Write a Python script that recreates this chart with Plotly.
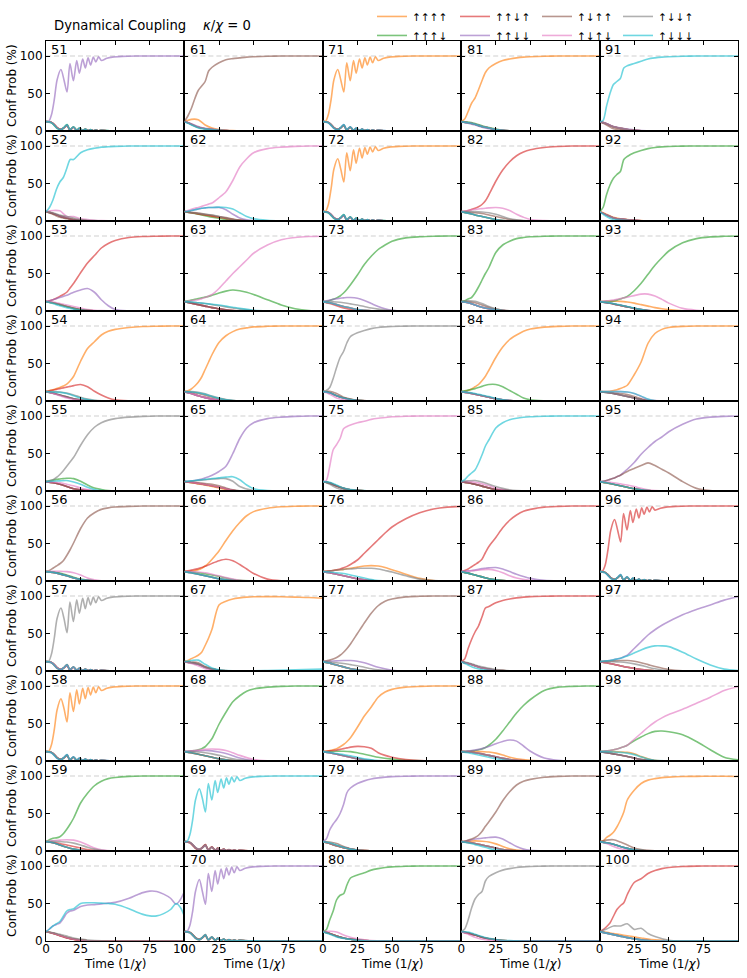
import plotly.graph_objects as go
from plotly.subplots import make_subplots

states = ["↑↑↑↑", "↑↑↑↓", "↑↑↓↑", "↑↑↓↓", "↑↓↑↑", "↑↓↑↓", "↑↓↓↑", "↑↓↓↓"]
colors = ["#ff7f0e", "#2ca02c", "#d62728", "#9467bd", "#8c564b", "#e377c2", "#7f7f7f", "#17becf"]

# time grids (1/chi); a curve's grid is picked by its length
t_main = [0, 2.5, 5, 7.5, 10, 12.5, 15, 17.5, 20, 25, 30, 35, 40, 45, 50, 60, 70, 80, 90, 100]
t_side = [0, 5, 10, 15, 20, 25, 30, 35, 40, 50, 60, 100]
t_osc = [0, 2, 4, 6, 8, 10.8, 13, 15.2, 17.3, 19.8, 22.2, 24.1, 26.5, 28.4, 30.4, 32.2, 34.2, 36, 38, 40,
         44, 48, 55, 65, 80, 100]
t_long = [0, 2.5, 5, 7.5, 10, 12.5, 15, 17.5, 20, 25, 30, 35, 40, 45, 50, 60, 65, 70, 75, 80, 85, 90, 94, 97, 100]

# shared wiggly tails of the fast-oscillating panels
osc_rest_a = [12.5, 12.4, 11.5, 8.5, 4.5, 2.2, 4.2, 7.5, 1.2, 5, 0.8, 3.3, 0.5, 2.4, 0.3, 1.7, 0.2, 1.3, 0.2, 0.9,
              0.4, 0.2, 0.1, 0, 0, 0]
osc_rest_b = [12.5, 12.2, 10.8, 7.5, 3.5, 1.5, 4.8, 8.5, 1.6, 5.6, 1, 3.8, 0.7, 2.7, 0.4, 1.9, 0.3, 1.4, 0.2, 1,
              0.5, 0.2, 0.1, 0, 0, 0]

# per panel: state index -> values, "rest" -> every other state
p51 = {3: [12.5, 13, 22, 42, 68, 82, 68, 52, 90, 67, 94, 77, 96, 84, 97.5, 88, 98.5, 92, 99, 94, 97, 98.5, 99.5, 100, 100, 100],
       1: osc_rest_b, 7: osc_rest_b, "rest": osc_rest_a}
p52 = {7: [12.5, 18, 28, 42, 52, 58, 70, 82, 82, 91, 95, 97, 98.5, 99, 99.5, 100, 100, 100, 100, 100],
       5: [12.5, 14, 13.5, 6, 6, 3, 2, 1, 0.5, 0, 0, 0],
       6: [12.5, 11, 8, 6, 4, 2, 1, 0.5, 0.2, 0, 0, 0],
       4: [12.5, 9, 5, 3, 1.2, 0.5, 0.2, 0, 0, 0, 0, 0],
       "rest": [12.5, 10, 6.5, 4, 2, 1, 0.4, 0.1, 0, 0, 0, 0]}
p53 = {2: [12.5, 13.5, 15, 17, 19.5, 22, 25, 31, 37, 51, 64, 74, 84, 90, 94, 98, 99.3, 99.7, 100, 100],
       3: [12.5, 13.5, 15, 16.5, 18, 19.5, 21, 23, 25, 28, 30, 25, 15, 7, 2, 0.3, 0, 0, 0, 0],
       5: [12.5, 12, 10, 8, 6, 4, 2, 1, 0.5, 0, 0, 0],
       7: [12.5, 10, 7, 4.5, 2.5, 1, 0.3, 0, 0, 0, 0, 0],
       "rest": [12.5, 11, 8.5, 6, 3.5, 2, 0.8, 0.3, 0, 0, 0, 0]}
p54 = {0: [12.5, 14, 15, 16.5, 18, 20, 22.5, 27, 33, 53, 70, 79, 88, 93, 95.5, 98, 99.3, 99.7, 100, 100],
       2: [12.5, 13.5, 14.5, 15.5, 16.5, 17.5, 18.5, 19.5, 20.5, 22, 19, 13, 8, 4, 1.5, 0.3, 0, 0, 0, 0],
       7: [12.5, 12, 11.5, 10, 7, 4, 2, 0.5, 0, 0, 0, 0],
       6: [12.5, 12.5, 12, 10.5, 8, 5, 2.5, 1, 0.2, 0, 0, 0],
       5: [12.5, 10, 7, 4, 2, 1, 0.3, 0, 0, 0, 0, 0],
       "rest": [12.5, 10.5, 8, 5.5, 3, 1.5, 0.5, 0, 0, 0, 0, 0]}
p55 = {6: [12.5, 14, 15, 18, 22, 27, 33, 39, 45, 61, 75, 85, 91, 94.5, 96.5, 98.5, 99.5, 100, 100, 100],
       1: [12.5, 13.5, 14.5, 15.5, 16, 16.5, 17, 17, 16.5, 13, 8, 4, 2, 0.5, 0, 0, 0, 0, 0, 0],
       7: [12.5, 13, 13.5, 14, 12, 9, 5, 2, 0.5, 0, 0, 0],
       5: [12.5, 12, 11, 9, 7, 4, 2, 0.5, 0, 0, 0, 0],
       "rest": [12.5, 11, 9, 6, 3, 1.5, 0.5, 0, 0, 0, 0, 0]}
p56 = {4: [12.5, 14, 17, 20, 23, 27, 34, 42, 51, 70, 84, 91, 95.5, 97.5, 98.6, 99.5, 100, 100, 100, 100],
       5: [12.5, 13, 13, 12.5, 11, 8, 4, 1.5, 0.3, 0, 0, 0],
       1: [12.5, 12, 10.5, 8, 5, 2.5, 1, 0.3, 0, 0, 0, 0],
       "rest": [12.5, 11.5, 9.5, 7, 4, 2, 0.8, 0.2, 0, 0, 0, 0]}
p57 = {6: [12.5, 13, 23, 44, 70, 84, 70, 51, 92, 66, 95, 77, 97, 83, 98, 88, 98.5, 91, 99, 94, 97, 98.5, 99.5, 100, 100, 100],
       2: osc_rest_b, 7: osc_rest_b, "rest": osc_rest_a}
p58 = {0: [12.5, 13, 22, 42, 68, 83, 70, 52, 91, 66, 95, 76, 97, 83, 98, 88, 98.5, 91, 99, 94, 97, 98.5, 99.5, 100, 100, 100],
       3: osc_rest_b, 7: osc_rest_b, "rest": osc_rest_a}
p59 = {1: [12.5, 15, 17, 17.5, 19, 23, 29, 36, 44, 64, 77, 87, 93, 96.5, 98, 99.5, 100, 100, 100, 100],
       5: [12.5, 14, 14.5, 15, 14.5, 12, 8, 4, 1.5, 0, 0, 0],
       6: [12.5, 13, 12.5, 12, 10.5, 8, 5, 2.5, 1, 0, 0, 0],
       2: [12.5, 11.5, 10, 8, 6, 4, 2, 0.8, 0.2, 0, 0, 0],
       "rest": [12.5, 11, 8, 5, 2.5, 1, 0.3, 0, 0, 0, 0, 0]}
p60 = {3: [12.5, 16, 20, 22, 24, 30, 37, 40, 41, 46, 48, 48.5, 49.5, 50.5, 51.5, 57, 61, 64.5, 66.5, 66, 62.5, 57, 49, 55, 66],
       7: [12.5, 16, 20, 23, 26, 33, 40, 42, 43, 50, 51, 51, 50.5, 50, 49, 43, 39, 35.5, 33.5, 33.5, 36.5, 42, 50, 45, 33],
       6: [12.5, 11, 9, 6.5, 4, 2.5, 1.2, 0.5, 0.2, 0, 0, 0],
       2: [12.5, 10, 7, 4, 2, 0.8, 0.2, 0, 0, 0, 0, 0],
       "rest": [12.5, 10.5, 7.5, 4.5, 2.5, 1.2, 0.4, 0.1, 0, 0, 0, 0]}

p61 = {4: [12.5, 20, 30, 43, 54, 60, 66, 80, 85, 91, 95, 96.5, 97.5, 98.5, 99, 99.7, 100, 100, 100, 100],
       0: [12.5, 15.5, 15, 8, 4, 2, 1, 0.5, 0.2, 0, 0, 0],
       7: [12.5, 8, 4, 2.5, 1.5, 0.8, 0.3, 0, 0, 0, 0, 0],
       3: [12.5, 9.5, 6, 3.5, 2.5, 1.2, 0.5, 0.2, 0, 0, 0, 0],
       "rest": [12.5, 9, 5, 3, 2, 1, 0.5, 0.2, 0, 0, 0, 0]}
p62 = {5: [12.5, 14, 15.5, 17, 18, 19.5, 21, 22.5, 24, 31, 39, 54, 72, 83, 91, 96.5, 98.5, 99.5, 100, 100],
       7: [12.5, 13, 14, 15, 16, 17, 17.5, 18, 18, 18.5, 18, 16, 11, 6, 3, 1, 0.3, 0, 0, 0],
       3: [12.5, 13, 14, 15, 16, 17, 17.5, 18, 18, 18, 15, 9, 4, 1.5, 0.5, 0, 0, 0, 0, 0],
       6: [12.5, 11, 10, 9, 8, 6, 4, 2, 1, 0, 0, 0],
       4: [12.5, 11.5, 10.5, 9, 7.5, 6, 4.5, 2.5, 1, 0, 0, 0],
       1: [12.5, 11, 9, 7, 5, 3.5, 2, 1, 0.5, 0, 0, 0],
       "rest": [12.5, 11, 9.5, 8, 6.5, 5, 3.5, 2, 1, 0, 0, 0]}
p63 = {5: [12.5, 13, 14, 14.5, 15, 16.5, 18, 20, 22, 30, 40, 50, 59, 68, 77, 88, 95, 98, 99.3, 99.7],
       1: [12.5, 13.5, 14.5, 15.5, 16.5, 17.5, 18.5, 19.5, 21, 24, 26.5, 28, 27, 25, 22, 15, 8, 3, 0.5, 0],
       7: [12.5, 12, 11, 10, 9, 8, 6.5, 5, 3.5, 1, 0.2, 0],
       6: [12.5, 12, 11, 10, 8.5, 7, 5.5, 4, 2.5, 0.7, 0.1, 0],
       "rest": [12.5, 10.5, 8.5, 6.5, 4.5, 3, 1.5, 0.5, 0, 0, 0, 0]}
p64 = {0: [12.5, 13.5, 16, 20, 25, 32, 42, 52, 62, 78, 87, 92.5, 96, 97.5, 98.8, 99.6, 100, 100, 100, 100],
       7: [12.5, 12, 11, 9, 6, 3.5, 1.5, 0.5, 0, 0, 0, 0],
       6: [12.5, 12.5, 11.5, 9.5, 6.5, 4, 2, 0.7, 0.2, 0, 0, 0],
       4: [12.5, 11.5, 10, 7.5, 5, 3, 1.5, 0.5, 0, 0, 0, 0],
       "rest": [12.5, 10, 7, 4.5, 2.5, 1, 0.3, 0, 0, 0, 0, 0]}
p65 = {3: [12.5, 13, 13.5, 14, 15, 16, 17.5, 19, 21, 26, 33, 50, 70, 84, 91, 96.5, 98.5, 99.5, 100, 100],
       7: [12.5, 13, 13.5, 14, 14.5, 15, 15.5, 16, 16.5, 17.5, 18.5, 19, 15, 8, 3, 0.5, 0, 0, 0, 0],
       6: [12.5, 13, 14, 15, 16, 16.5, 16.5, 13, 6, 0.5, 0, 0],
       4: [12.5, 12, 11, 10, 9, 7, 4, 1.5, 0.3, 0, 0, 0],
       0: [12.5, 11, 9.5, 8, 6, 4, 2, 0.5, 0, 0, 0, 0],
       "rest": [12.5, 11.5, 10, 8.5, 7, 5, 3, 1, 0, 0, 0, 0]}
p66 = {0: [12.5, 13, 13.5, 14, 15, 17, 20, 24, 29, 40, 54, 67, 78, 87, 92.5, 97, 99, 99.7, 100, 100],
       2: [12.5, 13.5, 14.5, 15.5, 16.5, 18, 19.5, 21.5, 23.5, 27, 29, 27, 22, 16, 10, 2.5, 0.3, 0, 0, 0],
       5: [12.5, 12.5, 12, 11, 9, 7, 4.5, 2.5, 1, 0, 0, 0],
       1: [12.5, 12, 11, 9.5, 8, 6, 4, 2, 0.8, 0, 0, 0],
       "rest": [12.5, 11, 9, 7, 5, 3, 1.5, 0.5, 0, 0, 0, 0]}
p67 = {0: [12.5, 14, 16.5, 18.5, 21, 25, 34, 44, 56, 88, 93, 96, 97.5, 98.5, 99, 99.2, 99, 98.5, 98, 97],
       7: [12.5, 14, 14.5, 9, 4, 1.5, 0.5, 0.2, 0.1, 0.2, 0.6, 2.5],
       4: [12.5, 12, 11, 6, 3, 1, 0.5, 0, 0, 0, 0, 0],
       5: [12.5, 10, 7, 3, 1, 0.3, 0, 0, 0, 0, 0, 0],
       "rest": [12.5, 11, 9, 5, 2.5, 1, 0.3, 0, 0, 0, 0, 0]}
p68 = {1: [12.5, 13, 13.5, 14, 15, 16.5, 19, 24, 30, 49, 65, 79, 87, 93, 96, 98.5, 99.5, 100, 100, 100],
       5: [12.5, 13.5, 14.5, 15.5, 16, 15.5, 14, 11, 7.5, 2, 0.3, 0],
       3: [12.5, 13, 13.5, 14, 13.5, 12, 10, 7, 4, 0.5, 0, 0],
       6: [12.5, 12.5, 12, 11, 9.5, 7.5, 5, 3, 1.5, 0.2, 0, 0],
       "rest": [12.5, 11, 9, 7, 5, 3, 1.5, 0.5, 0.1, 0, 0, 0]}
p69 = {7: [12.5, 13, 22, 42, 68, 83, 70, 52, 90, 68, 94, 78, 96, 84, 97.5, 89, 98.5, 92, 99, 94, 97, 98.5, 99.5, 100, 100, 100],
       4: osc_rest_b, 2: osc_rest_b, "rest": osc_rest_a}
p70 = {3: [12.5, 13, 21, 40, 66, 82, 66, 49, 90, 66, 94, 76, 96, 83, 97.5, 88, 98.5, 91, 99, 94, 97, 98.5, 99.5, 100, 100, 100],
       2: osc_rest_b, 7: osc_rest_b, "rest": osc_rest_a}

p71 = {0: [12.5, 13, 22, 42, 68, 82, 68, 52, 91, 67, 94, 77, 96, 84, 97.5, 88, 98.5, 91, 99, 94, 97, 98.5, 99.5, 100, 100, 100],
       3: osc_rest_b, 7: osc_rest_b, "rest": osc_rest_a}
p72 = {0: [12.5, 13, 22, 43, 69, 83, 69, 52, 91, 67, 95, 77, 97, 84, 98, 89, 98.5, 92, 99, 94, 97, 98.5, 99.5, 100, 100, 100],
       1: osc_rest_b, 7: osc_rest_b, "rest": osc_rest_a}
p73 = {1: [12.5, 13, 14, 15.5, 17.5, 20, 24, 29, 35, 48, 62, 73, 82, 88, 93, 97.5, 99, 99.7, 100, 100],
       3: [12.5, 13.5, 14.5, 15.5, 16.5, 17, 17.5, 18, 18, 17, 14, 10, 6, 3, 1, 0, 0, 0, 0, 0],
       6: [12.5, 12.5, 12, 11, 9.5, 8, 6, 4, 2.5, 0.5, 0, 0],
       2: [12.5, 10, 7, 4, 2, 1, 0.3, 0, 0, 0, 0, 0],
       "rest": [12.5, 11, 8.5, 6, 4, 2, 1, 0.3, 0, 0, 0, 0]}
p74 = {6: [12.5, 14, 18, 30, 45, 58, 66, 78, 86, 91, 94, 96.5, 98, 98.8, 99.3, 99.8, 100, 100, 100, 100],
       4: [12.5, 13, 10, 5, 2.5, 1, 0.5, 0, 0, 0, 0, 0],
       5: [12.5, 9, 4, 2, 1, 0.5, 0, 0, 0, 0, 0, 0],
       "rest": [12.5, 11, 7, 4, 2, 1, 0.3, 0, 0, 0, 0, 0]}
p75 = {5: [12.5, 14, 33, 55, 62, 70, 83, 86, 88, 91, 93, 95.5, 97, 98, 99, 99.7, 100, 100, 100, 100],
       7: [12.5, 11.5, 8, 4, 2, 1, 0.5, 0, 0, 0, 0, 0],
       6: [12.5, 9, 4, 1.5, 0.5, 0, 0, 0, 0, 0, 0, 0],
       "rest": [12.5, 10.5, 6.5, 3.5, 1.5, 0.8, 0.3, 0, 0, 0, 0, 0]}
p76 = {2: [12.5, 13, 13.5, 14, 15, 16, 17.5, 19.5, 22, 28, 37, 46, 55, 64, 72, 83, 91, 96, 98.5, 99.5],
       0: [12.5, 13, 13.5, 14, 14.5, 15, 15.5, 16.5, 17, 18.5, 20, 20.5, 20, 18, 15, 9, 3.5, 0.5, 0, 0],
       6: [12.5, 13, 13.5, 14, 14.5, 15, 15.5, 16, 16, 17, 17, 17, 16, 14, 12, 7, 2.5, 0.5, 0, 0],
       7: [12.5, 12, 11, 10, 8, 6, 4, 2, 0.5, 0, 0, 0],
       "rest": [12.5, 11, 9, 7, 5, 3, 1.5, 0.5, 0, 0, 0, 0]}
p77 = {4: [12.5, 13.5, 14.5, 16, 18, 21, 25, 30, 36, 50, 64, 77, 87, 93, 96, 98.8, 99.6, 100, 100, 100],
       3: [12.5, 13, 13.5, 14, 14, 13, 11, 8, 5, 1, 0, 0],
       6: [12.5, 12, 11, 10, 8.5, 7, 5, 3, 1.5, 0.2, 0, 0],
       "rest": [12.5, 10.5, 8, 5.5, 3, 1.5, 0.5, 0, 0, 0, 0, 0]}
p78 = {0: [12.5, 13, 14, 15, 16.5, 19, 22, 26, 31, 45, 60, 72, 85, 92, 95.5, 98.5, 99.5, 100, 100, 100],
       2: [12.5, 13, 13.5, 14, 14.5, 15.5, 16.5, 17.5, 18.5, 19.5, 19, 17, 11, 7.5, 5, 2, 0.5, 0, 0, 0],
       1: [12.5, 12.5, 13, 13, 12.5, 11, 9, 7, 5, 2.5, 1, 0],
       7: [12.5, 11.5, 10, 8.5, 7, 5, 3, 1.5, 0.5, 0, 0, 0],
       "rest": [12.5, 11, 9, 7, 5, 3, 1.5, 0.5, 0.1, 0, 0, 0]}
p79 = {3: [12.5, 16, 28, 36, 42, 50, 62, 78, 84, 90, 93.5, 96, 97.5, 98.5, 99.2, 99.7, 100, 100, 100, 100],
       4: [12.5, 12, 10, 6, 3, 1.5, 0.5, 0.2, 0, 0, 0, 0],
       7: [12.5, 11, 8, 5, 2.5, 1, 0.3, 0, 0, 0, 0, 0],
       "rest": [12.5, 10, 7, 4.5, 2.5, 1.2, 0.5, 0.2, 0, 0, 0, 0]}
p80 = {1: [12.5, 15, 28, 40, 55, 61, 63, 75, 84, 88, 91, 94.5, 96.5, 98, 98.8, 99.6, 100, 100, 100, 100],
       5: [12.5, 13, 12, 8, 5, 3, 1.5, 0.5, 0.2, 0, 0, 0],
       7: [12.5, 9, 5.5, 3.5, 2, 1, 0.3, 0, 0, 0, 0, 0],
       "rest": [12.5, 10, 6.5, 4, 2.5, 1.2, 0.5, 0.2, 0, 0, 0, 0]}

p81 = {0: [12.5, 16, 26, 37, 44, 55, 67, 78, 84, 90, 94, 96, 97.5, 98.5, 99, 99.7, 100, 100, 100, 100],
       1: [12.5, 12, 10, 7, 4.5, 2.5, 1, 0.3, 0, 0, 0, 0],
       3: [12.5, 10.5, 8, 5, 3, 1.5, 0.5, 0, 0, 0, 0, 0],
       "rest": [12.5, 11, 9, 6, 4, 2, 0.8, 0.3, 0, 0, 0, 0]}
p82 = {2: [12.5, 13, 14, 15.5, 17, 19, 22, 27, 35, 53, 68, 79, 87, 92, 95, 98, 99.3, 100, 100, 100],
       5: [12.5, 13, 14, 15, 15.5, 16, 16.5, 17, 17.5, 18, 17, 14, 9, 5, 2, 0.5, 0, 0, 0, 0],
       6: [12.5, 12.5, 12.5, 12, 11, 9, 6, 3, 1.5, 0, 0, 0],
       4: [12.5, 12, 11, 10, 8, 6, 4, 2, 1, 0, 0, 0],
       "rest": [12.5, 10.5, 8, 6, 4, 2, 0.5, 0, 0, 0, 0, 0]}
p83 = {1: [12.5, 13.5, 16, 18, 24, 32, 41, 50, 58, 78, 88, 93, 96.5, 98, 99, 99.7, 100, 100, 100, 100],
       6: [12.5, 13.5, 13, 10, 6, 3, 1, 0.3, 0, 0, 0, 0],
       4: [12.5, 12.5, 11, 8, 5, 2.5, 1, 0.3, 0, 0, 0, 0],
       "rest": [12.5, 11, 8, 5, 3, 1.5, 0.5, 0, 0, 0, 0, 0]}
p84 = {0: [12.5, 13, 14, 16, 19, 22, 27, 33, 41, 58, 72, 82, 88, 93, 96, 98.5, 99.5, 100, 100, 100],
       1: [12.5, 13.5, 14.5, 15.5, 16.5, 18, 19.5, 21, 22, 22, 19, 14, 9, 4, 1.5, 0.3, 0, 0, 0, 0],
       7: [12.5, 11.5, 10, 8, 6, 3.5, 1.5, 0.5, 0, 0, 0, 0],
       "rest": [12.5, 11, 9, 7, 5, 3, 1.5, 0.5, 0, 0, 0, 0]}
p85 = {7: [12.5, 15, 20, 24, 28, 37, 48, 60, 68, 84, 91, 95, 97, 98.3, 99, 99.7, 100, 100, 100, 100],
       6: [12.5, 13.5, 14, 12, 9, 6, 3.5, 1.5, 0.5, 0, 0, 0],
       5: [12.5, 12.5, 11.5, 9.5, 7, 4, 2, 0.7, 0.2, 0, 0, 0],
       "rest": [12.5, 11, 9, 6.5, 4, 2, 1, 0.3, 0, 0, 0, 0]}
p86 = {2: [12.5, 14, 16, 19, 22, 25, 29, 38, 46, 58, 71, 81, 88, 93, 95.5, 98.5, 99.5, 100, 100, 100],
       3: [12.5, 13, 13.5, 14, 14.5, 15.5, 16.5, 17, 17.5, 18, 16, 12.5, 9, 6, 3.5, 0.8, 0, 0, 0, 0],
       5: [12.5, 13, 14, 15, 15.5, 14, 11, 7, 4, 1, 0, 0],
       "rest": [12.5, 10.5, 8, 5.5, 3, 1.5, 0.5, 0, 0, 0, 0, 0]}
p87 = {2: [12.5, 16, 30, 42, 52, 60, 72, 84, 86, 91, 94, 96, 97.5, 98.5, 99.2, 99.7, 100, 100, 100, 100],
       6: [12.5, 11, 8, 5.5, 3.5, 2, 1, 0.3, 0, 0, 0, 0],
       7: [12.5, 8, 4, 2, 1, 0.3, 0, 0, 0, 0, 0, 0],
       "rest": [12.5, 10, 7, 4, 2.5, 1, 0.5, 0.2, 0, 0, 0, 0]}
p88 = {1: [12.5, 12.7, 13, 13.5, 14, 15, 16, 18, 21, 29, 40, 52, 64, 74, 82, 94, 98.5, 99.5, 100, 100],
       3: [12.5, 13, 13.5, 14, 14.5, 15.5, 16.5, 18, 19.5, 23, 26, 28, 26.5, 20, 13, 4, 1, 0, 0, 0],
       0: [12.5, 13, 13, 12.5, 12, 10.5, 8, 5, 3, 1, 0.3, 0],
       7: [12.5, 11, 9, 7, 5, 3, 1.5, 0.5, 0, 0, 0, 0],
       "rest": [12.5, 12, 11, 9.5, 7.5, 5.5, 3.5, 2, 1, 0.2, 0, 0]}
p89 = {4: [12.5, 13, 14.5, 16, 18, 21, 26, 33, 39, 52, 67, 79, 88, 93, 95.5, 98.3, 99.5, 100, 100, 100],
       3: [12.5, 13, 14, 15, 16, 16.5, 17, 17.5, 18, 18.5, 16, 11, 6, 2.5, 0.8, 0, 0, 0, 0, 0],
       0: [12.5, 13, 13.5, 13, 12, 9.5, 6, 3, 1.2, 0, 0, 0],
       7: [12.5, 11, 8.5, 6, 3.5, 1.5, 0.5, 0, 0, 0, 0, 0],
       "rest": [12.5, 11.5, 10, 8, 6, 4, 2, 0.8, 0.3, 0, 0, 0]}
p90 = {6: [12.5, 16, 28, 44, 56, 62, 66, 80, 86, 91, 94.5, 96.5, 98, 98.8, 99.3, 99.8, 100, 100, 100, 100],
       7: [12.5, 12, 9, 6, 3.5, 2, 1, 0.5, 0.2, 0, 0, 0],
       5: [12.5, 9, 5, 2.5, 1, 0.5, 0.2, 0, 0, 0, 0, 0],
       "rest": [12.5, 10.5, 8, 5, 3, 1.5, 0.5, 0.2, 0, 0, 0, 0]}

p91 = {7: [12.5, 14, 33, 50, 62, 66, 70, 84, 87, 90, 93, 96, 97.5, 98.5, 99, 99.7, 100, 100, 100, 100],
       4: [12.5, 8, 3, 1.5, 1, 0.5, 0.2, 0, 0, 0, 0, 0],
       3: [12.5, 10, 6, 4, 2.5, 1.5, 0.5, 0.2, 0, 0, 0, 0],
       "rest": [12.5, 9.5, 5.5, 3.5, 2, 1, 0.4, 0.1, 0, 0, 0, 0]}
p92 = {1: [12.5, 18, 35, 48, 57, 62, 66, 82, 86, 91, 94, 96.5, 98, 98.8, 99.3, 99.8, 100, 100, 100, 100],
       0: [12.5, 9, 5, 3, 2, 1, 0.5, 0, 0, 0, 0, 0],
       7: [12.5, 6, 2, 1, 0.5, 0, 0, 0, 0, 0, 0, 0],
       "rest": [12.5, 8, 4, 2.5, 1.5, 0.8, 0.3, 0, 0, 0, 0, 0]}
p93 = {1: [12.5, 12.5, 13, 13, 13.5, 14.5, 16, 17.5, 19.5, 27, 37, 49, 61, 71, 80, 91, 96.5, 98.8, 99.6, 100],
       5: [12.5, 13, 13.5, 14, 14.5, 15.5, 16.5, 17.5, 18.5, 20.5, 22.5, 22.5, 20, 15.5, 10.5, 3.5, 1, 0, 0, 0],
       0: [12.5, 12.7, 12.9, 13, 13, 13, 12.8, 12.5, 12, 10.5, 8.5, 6.5, 4.5, 3, 1.8, 0.3, 0, 0, 0, 0],
       7: [12.5, 11.5, 10, 8, 6, 4, 2, 0.5, 0, 0, 0, 0],
       "rest": [12.5, 11, 9.5, 7.5, 5.5, 3.5, 1.8, 0.5, 0, 0, 0, 0]}
p94 = {0: [12.5, 12.5, 12.7, 13, 14, 15, 16.5, 18.5, 21, 35, 52, 77, 90, 95.5, 98, 99.5, 100, 100, 100, 100],
       5: [12.5, 12.5, 12.5, 12.5, 12, 10, 6, 2, 0.5, 0, 0, 0],
       7: [12.5, 12.5, 12.5, 12.5, 12, 10, 6.5, 2.5, 0.5, 0, 0, 0],
       4: [12.5, 12, 11, 10, 8.5, 6, 3, 1, 0.3, 0, 0, 0],
       "rest": [12.5, 11.5, 10, 8, 6, 4, 2, 0.5, 0, 0, 0, 0]}
p95 = {3: [12.5, 13, 14, 15.5, 17, 19, 21, 25, 29, 38, 49, 58, 66, 72, 79, 89, 96, 98.5, 99.5, 100],
       4: [12.5, 13, 14, 15.5, 17, 19, 21, 23.5, 26, 30, 34, 37.5, 34, 29, 24, 12.5, 3.5, 0.5, 0, 0],
       5: [12.5, 12, 11, 9.5, 8, 6, 3.5, 1.5, 0.5, 0, 0, 0],
       "rest": [12.5, 11, 9, 7, 5, 3, 1.5, 0.5, 0, 0, 0, 0]}
p96 = {2: [12.5, 13, 21, 41, 67, 82, 68, 52, 90, 68, 94, 78, 96, 84, 97.5, 89, 98.5, 92, 99, 94.5, 97, 98.5, 99.5, 100, 100, 100],
       3: osc_rest_b, 7: osc_rest_b, "rest": osc_rest_a}
p97 = {3: [12.5, 13, 13.5, 14, 15, 16, 17, 19, 21, 30, 39, 48, 55, 61, 66, 75, 82, 88, 94.5, 99],
       7: [12.5, 13, 13.5, 14, 15, 16, 17, 18.5, 20, 24, 28, 31.5, 33.5, 33.5, 32.5, 25, 16, 8, 2.5, 0.5],
       4: [12.5, 13, 13.5, 14, 14, 13, 11, 8.5, 6, 2, 0.3, 0],
       6: [12.5, 12.5, 12.5, 12, 11, 9.5, 7.5, 5, 3, 0.5, 0, 0],
       "rest": [12.5, 11, 9, 7, 5, 3.5, 2, 1, 0.3, 0, 0, 0]}
p98 = {5: [12.5, 13, 13.5, 14, 15, 16, 17.5, 19, 21, 29, 37, 45, 52, 57.5, 62, 69, 77, 85, 94, 99],
       1: [12.5, 13, 13.5, 14, 15, 16, 17.5, 19, 21, 27, 32, 36.5, 39.5, 40, 39, 35, 26, 15, 5, 1.5],
       0: [12.5, 12.5, 12.5, 12, 11.5, 9.5, 6, 3, 1, 0, 0, 0],
       7: [12.5, 12.5, 12, 11.5, 10.5, 8.5, 5.5, 2.5, 0.8, 0, 0, 0],
       "rest": [12.5, 11, 9.5, 8, 6, 4, 2, 1, 0.3, 0, 0, 0]}
p99 = {0: [12.5, 13.5, 18, 21, 25, 32, 41, 52, 68, 81, 90, 94.5, 96.5, 97.8, 98.5, 99.3, 99.5, 99.7, 99.6, 99.4],
       4: [12.5, 14.5, 15, 12, 8, 4, 2, 0.8, 0.2, 0, 0, 0],
       5: [12.5, 10, 6, 3, 1.5, 0.5, 0, 0, 0, 0, 0, 0],
       "rest": [12.5, 11, 9, 6, 3.5, 1.5, 0.5, 0.2, 0, 0, 0, 0]}
p100 = {2: [12.5, 15, 19, 24, 33, 42, 47, 51, 62, 78, 83, 90, 94, 96.5, 98, 99.3, 99.8, 100, 100, 100],
        6: [12.5, 16, 20, 20, 23, 15.5, 17, 10, 6, 1, 0, 0],
        0: [12.5, 11.5, 10, 8.5, 7, 5.5, 4, 2.5, 1.5, 0.2, 0, 0],
        "rest": [12.5, 10.5, 8.5, 6.5, 4.5, 3, 1.5, 0.5, 0.1, 0, 0, 0]}

panels = {51: p51, 52: p52, 53: p53, 54: p54, 55: p55, 56: p56, 57: p57, 58: p58, 59: p59, 60: p60,
          61: p61, 62: p62, 63: p63, 64: p64, 65: p65, 66: p66, 67: p67, 68: p68, 69: p69, 70: p70,
          71: p71, 72: p72, 73: p73, 74: p74, 75: p75, 76: p76, 77: p77, 78: p78, 79: p79, 80: p80,
          81: p81, 82: p82, 83: p83, 84: p84, 85: p85, 86: p86, 87: p87, 88: p88, 89: p89, 90: p90,
          91: p91, 92: p92, 93: p93, 94: p94, 95: p95, 96: p96, 97: p97, 98: p98, 99: p99, 100: p100}

grids = {len(g): g for g in (t_main, t_side, t_osc, t_long)}
legend_of = ["legend", "legend", "legend2", "legend2", "legend3", "legend3", "legend4", "legend4"]

fig = make_subplots(rows=10, cols=5, horizontal_spacing=0, vertical_spacing=0)

for num, curves in panels.items():
    col = (num - 51) // 10 + 1
    row = (num - 51) % 10 + 1
    for k in range(8):
        y = curves.get(k, curves["rest"])
        fig.add_trace(go.Scatter(
            x=grids[len(y)], y=y, mode="lines", name=states[k],
            line=dict(color=colors[k], width=1.6, shape="spline", smoothing=0.8),
            opacity=0.62, legend=legend_of[k], showlegend=(num == 51), hoverinfo="skip"),
            row=row, col=col)
    idx = (row - 1) * 5 + col
    ax = "x" if idx == 1 else f"x{idx}"
    ay = "y" if idx == 1 else f"y{idx}"
    fig.add_annotation(text=str(num), xref=f"{ax} domain", yref=f"{ay} domain", x=0.025, y=1.01,
                       xanchor="left", yanchor="top", showarrow=False, font=dict(size=13, color="black"))

# axis titles as plain annotations (one per row / column)
for r in range(10):
    fig.add_annotation(text="Conf Prob (%)", xref="paper", yref="paper", x=(12 - 46) / 692,
                       y=1 - (r + 0.5) / 10, textangle=-90, showarrow=False,
                       xanchor="center", yanchor="middle", font=dict(size=12, color="black"))
for c in range(5):
    fig.add_annotation(text="Time (1/<i>χ</i>)", xref="paper", yref="paper", x=(c + 0.5) / 5,
                       y=-(964 - 941) / 900, showarrow=False, xanchor="center", yanchor="middle",
                       font=dict(size=12, color="black"))
fig.add_annotation(text="Dynamical Coupling    <i>κ</i>/<i>χ</i> = 0", xref="paper", yref="paper",
                   x=(52 - 46) / 692, y=1 + (41 - 25) / 900, xanchor="left", yanchor="middle",
                   showarrow=False, font=dict(size=13.2, color="black"))

fig.add_hline(y=100, line=dict(color="#cfcfcf", width=1, dash="5px,3px"), layer="below", row="all", col="all")

axis_style = dict(ticks="inside", ticklen=4, tickwidth=1, tickcolor="black", showline=True, linecolor="black",
                  linewidth=1, mirror="ticks", showgrid=False, zeroline=False, showticklabels=False,
                  automargin=False, tickfont=dict(size=12, color="black"))
fig.update_xaxes(range=[0, 100], tickvals=[0, 25, 50, 75], **axis_style)
fig.update_xaxes(tickvals=[0, 25, 50, 75, 100], col=1)
fig.update_xaxes(showticklabels=True, ticklabelstandoff=-3, row=10)
fig.update_yaxes(range=[0, 120], tickvals=[0, 50, 100], **axis_style)
fig.update_yaxes(showticklabels=True, col=1)

leg = dict(xref="container", yref="container", y=0.998, yanchor="top", xanchor="left",
           orientation="v", bgcolor="rgba(0,0,0,0)", font=dict(size=10.5, color="black"),
           itemwidth=30, tracegroupgap=0)
fig.update_layout(
    template="none",
    width=747, height=978,
    margin=dict(l=46, r=9, t=41, b=37, autoexpand=False),
    paper_bgcolor="white", plot_bgcolor="white",
    font=dict(family="DejaVu Sans", size=12, color="black"),
    legend=dict(leg, x=372 / 747),
    legend2=dict(leg, x=455 / 747),
    legend3=dict(leg, x=537 / 747),
    legend4=dict(leg, x=618 / 747),
)

fig.write_html("out.html", config={"displayModeBar": False},
               post_script="document.body.style.margin='0';")
